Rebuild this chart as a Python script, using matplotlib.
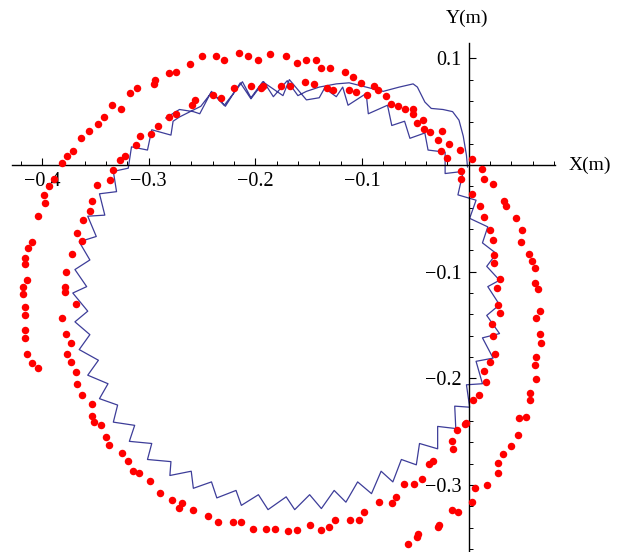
import matplotlib
matplotlib.use("Agg")
import matplotlib.pyplot as plt
import numpy as np

# measured positions (red dots), metres
exp_x = [-0.404, -0.409, -0.414, -0.416, -0.416, -0.416, -0.416, -0.418, -0.418, -0.414,
         -0.416, -0.416, -0.409, -0.413, -0.404, -0.397, -0.398, -0.393, -0.389, -0.381,
         -0.376, -0.371, -0.363, -0.356, -0.347, -0.342, -0.334, -0.326, -0.317, -0.311,
         -0.295, -0.294, -0.281, -0.274, -0.261, -0.250, -0.237, -0.229, -0.215, -0.207,
         -0.197, -0.186, -0.171, -0.161, -0.152, -0.143, -0.138, -0.130, -0.116, -0.108,
         -0.101, -0.089, -0.085, -0.077, -0.073, -0.066, -0.060, -0.052, -0.052, -0.048,
         -0.043, -0.042, -0.036, -0.025, -0.029, -0.018, -0.026, -0.008, -0.020, 0.003,
         0.013, 0.014, 0.023, 0.033, 0.035, 0.044, 0.050, 0.049, 0.057, 0.059,
         0.062, 0.062, 0.065, 0.067, 0.063, 0.067, 0.068, 0.063, 0.062, 0.063,
         0.058, 0.058, 0.054, 0.047, 0.046, 0.040, 0.032, 0.028, 0.028, 0.017,
         0.006, 0.003, -0.010, -0.016, -0.028, -0.029, -0.047, -0.048, -0.057,
         # inner loop
         -0.007, -0.007, 0.003, 0.011, 0.014, 0.020, 0.023, 0.024, 0.024, 0.029,
         0.027, 0.028, 0.029, 0.022, 0.023, 0.025, 0.020, 0.014, 0.016, 0.010,
         0.004, -0.002, -0.003, -0.011, -0.016, -0.015, -0.033, -0.037, -0.044, -0.051,
         -0.061, -0.068, -0.072, -0.084, -0.098, -0.103, -0.111, -0.125, -0.131, -0.138,
         -0.149, -0.161, -0.169, -0.181, -0.190, -0.202, -0.213, -0.221, -0.235, -0.244,
         -0.258, -0.271, -0.269, -0.278, -0.289, -0.299, -0.309, -0.315, -0.319, -0.325,
         -0.337, -0.340, -0.345, -0.351, -0.353, -0.353, -0.362, -0.367, -0.368, -0.373,
         -0.376, -0.373, -0.377, -0.381, -0.368, -0.378, -0.378, -0.377, -0.372, -0.362,
         -0.367, -0.361, -0.355, -0.353, -0.348, -0.336, -0.333, -0.327, -0.322, -0.312,
         -0.308, -0.298, -0.291, -0.281, -0.274, -0.259, -0.256, -0.240, -0.232, -0.220,
         -0.204, -0.195, -0.193, -0.176, -0.167, -0.153, -0.145, -0.133, -0.127, -0.112,
         -0.106, -0.095]
exp_y = [-0.190, -0.186, -0.177, -0.162, -0.155, -0.141, -0.133, -0.121, -0.114, -0.108,
         -0.093, -0.087, -0.072, -0.078, -0.048, -0.036, -0.028, -0.020, -0.013, 0.002,
         0.008, 0.013, 0.025, 0.032, 0.038, 0.045, 0.056, 0.052, 0.067, 0.072,
         0.076, 0.080, 0.086, 0.087, 0.095, 0.102, 0.102, 0.098, 0.105, 0.102,
         0.098, 0.104, 0.102, 0.096, 0.098, 0.098, 0.091, 0.091, 0.087, 0.082,
         0.077, 0.074, 0.070, 0.065, 0.057, 0.055, 0.052, 0.052, 0.048, 0.039,
         0.042, 0.034, 0.031, 0.032, 0.023, 0.020, 0.013, 0.014, 0.007, 0.006,
         -0.004, -0.013, -0.018, -0.034, -0.038, -0.050, -0.061, -0.072, -0.083, -0.090,
         -0.097, -0.111, -0.116, -0.137, -0.143, -0.158, -0.167, -0.180, -0.187, -0.201,
         -0.214, -0.220, -0.236, -0.237, -0.253, -0.263, -0.271, -0.279, -0.289, -0.300,
         -0.303, -0.316, -0.325, -0.323, -0.337, -0.339, -0.346, -0.349, -0.355,
         # inner loop
         -0.006, -0.013, -0.027, -0.038, -0.049, -0.061, -0.070, -0.084, -0.092, -0.107,
         -0.115, -0.131, -0.139, -0.149, -0.160, -0.177, -0.185, -0.193, -0.203, -0.216,
         -0.220, -0.242, -0.243, -0.248, -0.259, -0.266, -0.277, -0.280, -0.294, -0.299,
         -0.299, -0.311, -0.317, -0.316, -0.325, -0.333, -0.333, -0.333, -0.339, -0.342,
         -0.337, -0.342, -0.343, -0.341, -0.341, -0.341, -0.335, -0.335, -0.335, -0.329,
         -0.323, -0.321, -0.317, -0.314, -0.307, -0.296, -0.289, -0.287, -0.277, -0.270,
         -0.262, -0.255, -0.244, -0.241, -0.235, -0.224, -0.216, -0.205, -0.194, -0.185,
         -0.177, -0.167, -0.158, -0.143, -0.130, -0.119, -0.114, -0.100, -0.083, -0.071,
         -0.064, -0.052, -0.043, -0.034, -0.019, -0.014, -0.005, 0.005, 0.008, 0.019,
         0.027, 0.029, 0.037, 0.045, 0.048, 0.056, 0.061, 0.066, 0.063, 0.072,
         0.074, 0.072, 0.074, 0.074, 0.074, 0.078, 0.076, 0.072, 0.070, 0.070,
         0.068, 0.066]

# simulated path (blue line), metres
sim_x = [-0.001, -0.002, -0.005, -0.009, -0.015, -0.024, -0.035, -0.041, -0.048, -0.052,
         -0.065, -0.080, -0.096, -0.112, -0.124, -0.140, -0.152, -0.160, -0.170, -0.183,
         -0.192, -0.204, -0.214, -0.228, -0.241, -0.251, -0.261, -0.271, -0.277, -0.279,
         -0.297, -0.301, -0.316, -0.319, -0.333, -0.330, -0.346, -0.341, -0.357, -0.349,
         -0.365, -0.355, -0.369, -0.358, -0.371, -0.357, -0.369, -0.355, -0.365, -0.347,
         -0.357, -0.338, -0.346, -0.329, -0.333, -0.313, -0.318, -0.297, -0.301, -0.279,
         -0.280, -0.260, -0.258, -0.241, -0.236, -0.218, -0.213, -0.197, -0.188, -0.171,
         -0.163, -0.149, -0.138, -0.126, -0.115, -0.104, -0.091, -0.082, -0.071, -0.063,
         -0.049, -0.046, -0.029, -0.029, -0.012, -0.013, 0.001, -0.002, 0.013, 0.007,
         0.023, 0.013, 0.029, 0.017, 0.029, 0.018, 0.029, 0.017, 0.026, 0.013,
         0.018, 0.001, 0.007, -0.010, -0.005, -0.022, -0.022, -0.038, -0.041, -0.055,
         -0.060, -0.072, -0.076, -0.094, -0.096, -0.113, -0.118, -0.124, -0.135, -0.140,
         -0.152, -0.168, -0.174, -0.193, -0.204, -0.212, -0.229, -0.241, -0.252, -0.258,
         -0.271, -0.284]
sim_y = [-0.002, 0.009, 0.027, 0.042, 0.050, 0.052, 0.053, 0.059, 0.073, 0.076,
         0.073, 0.069, 0.073, 0.077, 0.076, 0.073, 0.069, 0.065, 0.079, 0.064,
         0.078, 0.062, 0.077, 0.055, 0.068, 0.055, 0.050, 0.045, 0.041, 0.028,
         0.033, 0.014, 0.017, -0.003, -0.006, -0.025, -0.027, -0.047, -0.048, -0.067,
         -0.072, -0.089, -0.098, -0.114, -0.120, -0.137, -0.147, -0.159, -0.173, -0.183,
         -0.197, -0.205, -0.219, -0.225, -0.241, -0.244, -0.259, -0.261, -0.276, -0.278,
         -0.291, -0.287, -0.303, -0.297, -0.312, -0.305, -0.319, -0.309, -0.323, -0.311,
         -0.323, -0.309, -0.322, -0.305, -0.316, -0.297, -0.308, -0.287, -0.297, -0.276,
         -0.281, -0.261, -0.266, -0.245, -0.247, -0.226, -0.227, -0.206, -0.205, -0.184,
         -0.181, -0.162, -0.158, -0.141, -0.131, -0.114, -0.108, -0.095, -0.083, -0.073,
         -0.058, -0.050, -0.033, -0.028, -0.006, -0.008, 0.012, 0.014, 0.030, 0.025,
         0.041, 0.037, 0.056, 0.048, 0.067, 0.056, 0.073, 0.064, 0.072, 0.063,
         0.061, 0.080, 0.065, 0.078, 0.063, 0.078, 0.056, 0.069, 0.048, 0.050,
         0.052, 0.044]

x_major = [-0.4, -0.3, -0.2, -0.1]
y_major = [0.1, -0.1, -0.2, -0.3]

plt.rcParams['font.family'] = ['Liberation Serif', 'DejaVu Serif']

fig = plt.figure(figsize=(6.26, 5.52), dpi=100)
ax = fig.add_axes([12 / 626, 0, 543 / 626, 509.3 / 552])
ax.set_xlim(-0.428, 0.081)
ax.set_ylim(-0.3627, 0.1146)

ax.plot(sim_x, sim_y, color='#3d3d99', lw=0.9, zorder=2,
        solid_joinstyle='round', solid_capstyle='round')
ax.plot(exp_x, exp_y, 'o', color='red', ms=5.4, mec='none', zorder=3)

for side in ['top', 'right']:
    ax.spines[side].set_visible(False)
for side in ['left', 'bottom']:
    ax.spines[side].set_position(('data', 0))
    ax.spines[side].set_linewidth(1.0)

ax.set_xticks(x_major)
ax.set_yticks(y_major)
ax.set_xticks(np.arange(-0.42, 0.081, 0.02), minor=True)
ax.set_yticks(np.arange(-0.36, 0.11, 0.02), minor=True)
ax.tick_params(which='major', direction='in', length=5, width=0.8, labelsize=14.5, pad=5)
ax.tick_params(which='minor', direction='in', length=2.7, width=0.7)

fig.text(569 / 626, 1 - 165 / 552, 'X(m)', ha='left', va='center', fontsize=14)
fig.text(466.7 / 626, 1 - 18 / 552, 'Y(m)', ha='center', va='center', fontsize=14)

fig.savefig('out.png', dpi=100)
